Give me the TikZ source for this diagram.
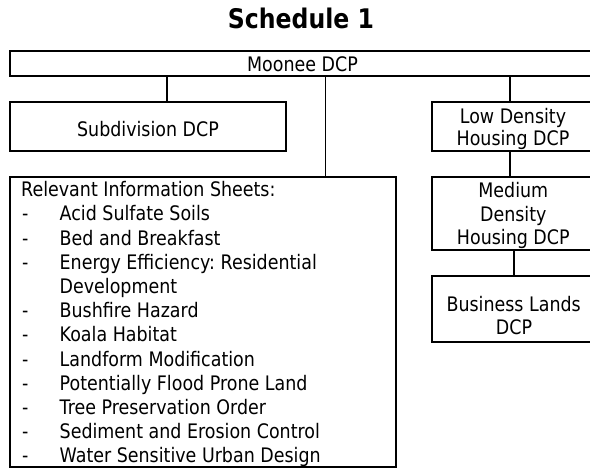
\documentclass[tikz,border=0pt]{standalone}
\usepackage{fontspec}
\setmainfont{DejaVu Sans}[FakeStretch=0.873]
\frenchspacing
\begin{document}
\begin{tikzpicture}[x=1pt,y=-1pt,
  box/.style={draw, line width=2pt, inner sep=0pt, rectangle},
  conn/.style={line width=2pt},
  thinconn/.style={line width=1pt},
  txt/.style={font=\fontsize{20}{24.2}\selectfont, inner sep=0pt, anchor=base},
  ltxt/.style={txt, anchor=base west},
  titletxt/.style={font=\fontsize{27}{32}\selectfont\bfseries, inner sep=0pt, anchor=base}
  ]
\useasboundingbox (0,0) rectangle (590,470);

% boxes
\node[box, minimum width=584pt, minimum height=24.7pt] (moonee) at (302,63.3) {};
\node[box, minimum width=276pt, minimum height=49.3pt] (sub) at (148,126.85) {};
\node[box, minimum width=386pt, minimum height=290.8pt] (info) at (203,322.1) {};
\node[box, minimum width=162pt, minimum height=49.3pt] (low) at (513,126.85) {};
\node[box, minimum width=162pt, minimum height=73.6pt] (med) at (513,213.5) {};
\node[box, minimum width=162pt, minimum height=66.1pt] (bus) at (513,309.25) {};

% connector x positions
\coordinate (cx1) at (166.7,0);
\coordinate (cx2) at (325.7,0);
\coordinate (cx3) at (510,0);
\coordinate (cx4) at (514,0);

\draw[conn] (moonee.south -| cx1) -- (sub.north -| cx1);
\draw[thinconn] (moonee.south -| cx2) -- (info.north -| cx2);
\draw[conn] (moonee.south -| cx3) -- (low.north -| cx3);
\draw[conn] (low.south -| cx3) -- (med.north -| cx3);
\draw[conn] (med.south -| cx4) -- (bus.north -| cx4);

% texts
\node[titletxt] (title) at (301,28.3) {Schedule 1};
\node[txt] (tmoonee) at (302.5,71.7) {Moonee DCP};
\node[txt] (tsub) at (148,136.7) {Subdivision DCP};
\node[txt] (tlow1) at (513,124) {Low Density};
\node[txt] (tlow2) at (513,145.5) {Housing DCP};
\node[txt] (tmed1) at (513.3,197.7) {Medium};
\node[txt] (tmed2) at (513.3,221.7) {Density};
\node[txt] (tmed3) at (513.3,245) {Housing DCP};
\node[txt] (tbus1) at (513.7,311.7) {Business Lands};
\node[txt] (tbus2) at (514,335) {DCP};

\node[ltxt] (thead) at (21,196.7) {Relevant Information Sheets:};
\foreach \k/\t/\d in {1/Acid Sulfate Soils/1,
                      2/Bed and Breakfast/1,
                      3/Energy Efficiency: Residential/1,
                      4/Development/0,
                      5/Bushfire Hazard/1,
                      6/Koala Habitat/1,
                      7/Landform Modification/1,
                      8/Potentially Flood Prone Land/1,
                      9/Tree Preservation Order/1,
                      10/Sediment and Erosion Control/1,
                      11/Water Sensitive Urban Design/1}{
  \node[ltxt] (item\k) at (59.5,{196.7+24.2*\k}) {\t};
  \ifnum\d=1
    \node[ltxt] (dash\k) at (22,{196.7+24.2*\k}) {-};
  \fi
}
\end{tikzpicture}
\end{document}
